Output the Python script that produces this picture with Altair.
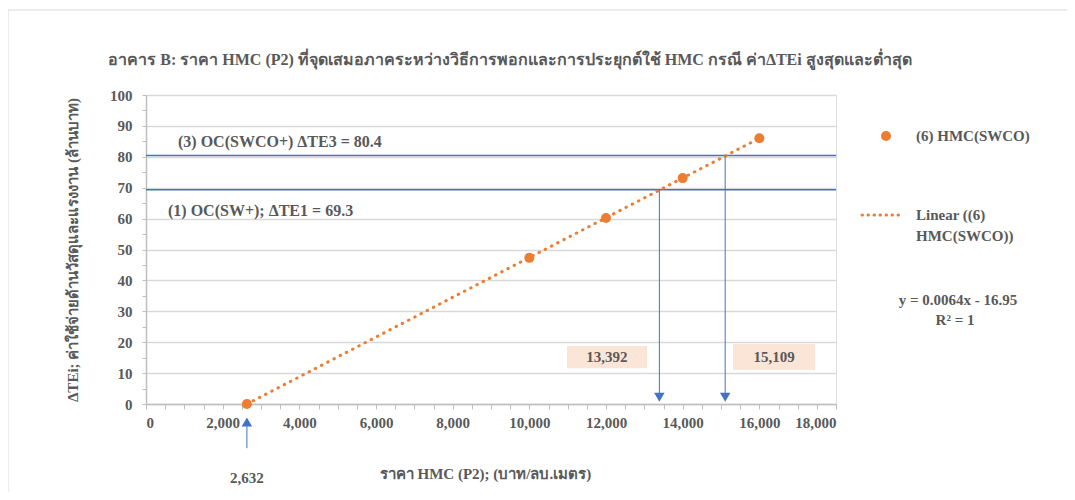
import altair as alt
import pandas as pd

# ---- data ----
hmc_x = [2632, 10000, 12000, 14000, 16000]
hmc_y = [0.0, 47.3, 60.2, 73.1, 86.0]
trend_x = [2632, 16000]
trend_y = [0.0, 86.0]

level_names = ["(3) OC(SWCO+) \u0394TE3 = 80.4", "(1) OC(SW+); \u0394TE1 = 69.3"]
level_values = [80.4, 69.3]

breakeven_x = [13392, 15109]
breakeven_y = [69.3, 80.4]
breakeven_labels = ["13,392", "15,109"]

start_x = 2632
start_label = "2,632"

x_ticks = list(range(0, 18001, 500))
y_ticks = list(range(0, 101, 5))

TITLE = "อาคาร B: ราคา HMC (P2) ที่จุดเสมอภาคระหว่างวิธีการพอกและการประยุกต์ใช้ HMC กรณี ค่า\u0394TEi สูงสุดและต่ำสุด"
Y_TITLE = "\u0394TEi; ค่าใช้จ่ายด้านวัสดุและแรงงาน (ล้านบาท)"
X_TITLE = "ราคา HMC (P2); (บาท/ลบ.เมตร)"

FONT = "Liberation Serif"
GREY = "#595959"
BLUE = "#4472C4"
ORANGE = "#ED7D31"
PEACH = "#FBE5D6"

W, H = 690, 309

xs = alt.Scale(domain=[0, 18000], nice=False, zero=False)
ys = alt.Scale(domain=[0, 100], nice=False, zero=False)

x_axis = alt.Axis(
    values=x_ticks, labelExpr="datum.value % 2000 == 0 ? format(datum.value, ',') : ''",
    labelOverlap=False,
    labelFont=FONT, labelFontSize=15, labelFontWeight="bold", labelColor=GREY,
    tickColor="#bfbfbf", tickSize=5, domainColor="#bfbfbf", domainWidth=1.5,
    grid=False, labelPadding=6,
    title=X_TITLE, titleFont=FONT, titleFontSize=15, titleFontWeight="bold",
    titleColor=GREY, titleX=339, titleY=62, titleAnchor="middle", titleAlign="center",
)
y_axis = alt.Axis(
    values=y_ticks, labelExpr="datum.value % 10 == 0 ? datum.value : ''",
    labelOverlap=False,
    labelFont=FONT, labelFontSize=15, labelFontWeight="bold", labelColor=GREY,
    tickColor="#bfbfbf", tickSize=4, domainColor="#bfbfbf", domainWidth=1.5,
    grid=True, gridColor={"condition": {"test": "datum.value % 10 == 0", "value": "#d9d9d9"}, "value": "rgba(0,0,0,0)"},
    gridWidth=1.5, labelPadding=10,
    title=Y_TITLE, titleFont=FONT, titleFontSize=15, titleFontWeight="bold",
    titleColor=GREY, titleX=-74, titleY=H / 2, titleAngle=-90, titleAlign="center",
    titleBaseline="middle",
)


def X(field):
    return alt.X(field, scale=xs, axis=x_axis)


def Y(field):
    return alt.Y(field, scale=ys, axis=y_axis)


def YD(v):
    return alt.YDatum(v, scale=ys, axis=y_axis)


pts = pd.DataFrame({"x": hmc_x, "y": hmc_y})
trend = pd.DataFrame({"x": trend_x, "y": trend_y})
levels = pd.DataFrame({"name": level_names, "v": level_values})
be = pd.DataFrame({"x": breakeven_x, "y": breakeven_y, "label": breakeven_labels})
start = pd.DataFrame({"x": [start_x], "label": [start_label]})

base_axes = alt.Chart(pts).mark_point(opacity=0).encode(x=X("x:Q"), y=Y("y:Q"))

hlines = alt.Chart(levels).mark_rule(color=BLUE, strokeWidth=1.5).encode(
    y=Y("v:Q"), x=alt.value(0), x2=alt.value(W)
)

level_text = pd.DataFrame({
    "name": level_names,
    "tx": [835, 574],
    "ty": [84.8, 62.6],
})
hlabels = alt.Chart(level_text).mark_text(
    font=FONT, fontSize=16, fontWeight="bold", color=GREY, align="left", baseline="middle"
).encode(x=X("tx:Q"), y=Y("ty:Q"), text="name:N")

trend_line = alt.Chart(trend).mark_line(
    color=ORANGE, strokeWidth=3, strokeDash=[0.5, 6.5], strokeCap="round"
).encode(x=X("x:Q"), y=Y("y:Q"))

points = alt.Chart(pts).mark_circle(color=ORANGE, size=100, opacity=1).encode(
    x=X("x:Q"), y=Y("y:Q")
)

be_rules = alt.Chart(be).mark_rule(color=BLUE, strokeWidth=1).encode(
    x=X("x:Q"), y=Y("y:Q"), y2=alt.datum(2)
)
be_heads = alt.Chart(be).mark_point(
    shape="triangle-down", filled=True, color=BLUE, size=110, opacity=1
).encode(x=X("x:Q"), y=YD(2.2))

box_df = pd.DataFrame({
    "label": breakeven_labels,
    "x1": [10983, 15313], "x2": [13070, 17452],
    "y1": [11.6, 11.0], "y2": [18.8, 19.4],
    "tx": [12026, 16383], "ty": [15.2, 15.2],
})
boxes = alt.Chart(box_df).mark_rect(color=PEACH).encode(
    x=X("x1:Q"), x2="x2:Q", y=Y("y1:Q"), y2="y2:Q"
)
box_text = alt.Chart(box_df).mark_text(
    font=FONT, fontSize=15, fontWeight="bold", color=GREY, align="center", baseline="middle"
).encode(x=X("tx:Q"), y=Y("ty:Q"), text="label:N")

start_rule = alt.Chart(start).mark_rule(color=BLUE, strokeWidth=1).encode(
    x=X("x:Q"), y=YD(-6), y2=alt.datum(-14.3)
)
start_head = alt.Chart(start).mark_point(
    shape="triangle-up", filled=True, color=BLUE, size=110, opacity=1
).encode(x=X("x:Q"), y=YD(-5.8))
start_text = alt.Chart(start).mark_text(
    font=FONT, fontSize=15, fontWeight="bold", color=GREY, align="center", baseline="middle"
).encode(x=X("x:Q"), y=YD(-24), text="label:N")

# legend & trendline equation (outside plot area)
legend_dot = alt.Chart(pd.DataFrame({"a": [0]})).mark_circle(color=ORANGE, size=100, opacity=1).encode(
    x=alt.value(740), y=alt.value(41)
)
legend_line = alt.Chart(pd.DataFrame({"a": [0]})).mark_rule(
    color=ORANGE, strokeWidth=3, strokeDash=[0.5, 5.5], strokeCap="round"
).encode(x=alt.value(716), x2=alt.value(757), y=alt.value(120))
legend_text = alt.Chart(pd.DataFrame({
    "t": ["(6) HMC(SWCO)", "Linear ((6)", "HMC(SWCO))"],
    "px": [770, 770, 770], "py": [41, 120, 141],
})).mark_text(font=FONT, fontSize=15, fontWeight="bold", color=GREY, align="left", baseline="middle").encode(
    x=alt.X("px:Q", scale=None), y=alt.Y("py:Q", scale=None), text="t:N"
)
eq_text = alt.Chart(pd.DataFrame({
    "t": ["y = 0.0064x - 16.95", "R\u00b2 = 1"],
    "px": [812, 809], "py": [205, 225],
})).mark_text(font=FONT, fontSize=15, fontWeight="bold", color=GREY, align="center", baseline="middle").encode(
    x=alt.X("px:Q", scale=None), y=alt.Y("py:Q", scale=None), text="t:N"
)

title_text = alt.Chart(pd.DataFrame({"t": [TITLE]})).mark_text(
    font=FONT, fontSize=16, fontWeight="bold", color=GREY, align="center", baseline="middle"
).encode(x=alt.value(364), y=alt.value(-35), text="t:N")

frame = alt.Chart(pd.DataFrame({"a": [0]})).mark_rule(color="#d9d9d9", strokeWidth=1).encode(
    x=alt.value(-138), x2=alt.value(930), y=alt.value(-85)
)
frame_left = alt.Chart(pd.DataFrame({"a": [0]})).mark_rule(color="#d9d9d9", strokeWidth=1).encode(
    x=alt.value(-138), y=alt.value(-85), y2=alt.value(410)
)

chart = alt.layer(
    base_axes, frame, frame_left, hlines, boxes, box_text, trend_line, points,
    be_rules, be_heads, start_rule, start_head, start_text, hlabels,
    legend_dot, legend_line, legend_text, eq_text, title_text,
).properties(
    width=W, height=H,
    autosize=alt.AutoSizeParams(type="none"),
    padding={"left": 138, "top": 87, "right": 231, "bottom": 88},
).configure_view(stroke="#d0d0d0", strokeWidth=1.5).configure(background="white")

chart.save("out.html", embed_options={"renderer": "svg", "actions": False})
